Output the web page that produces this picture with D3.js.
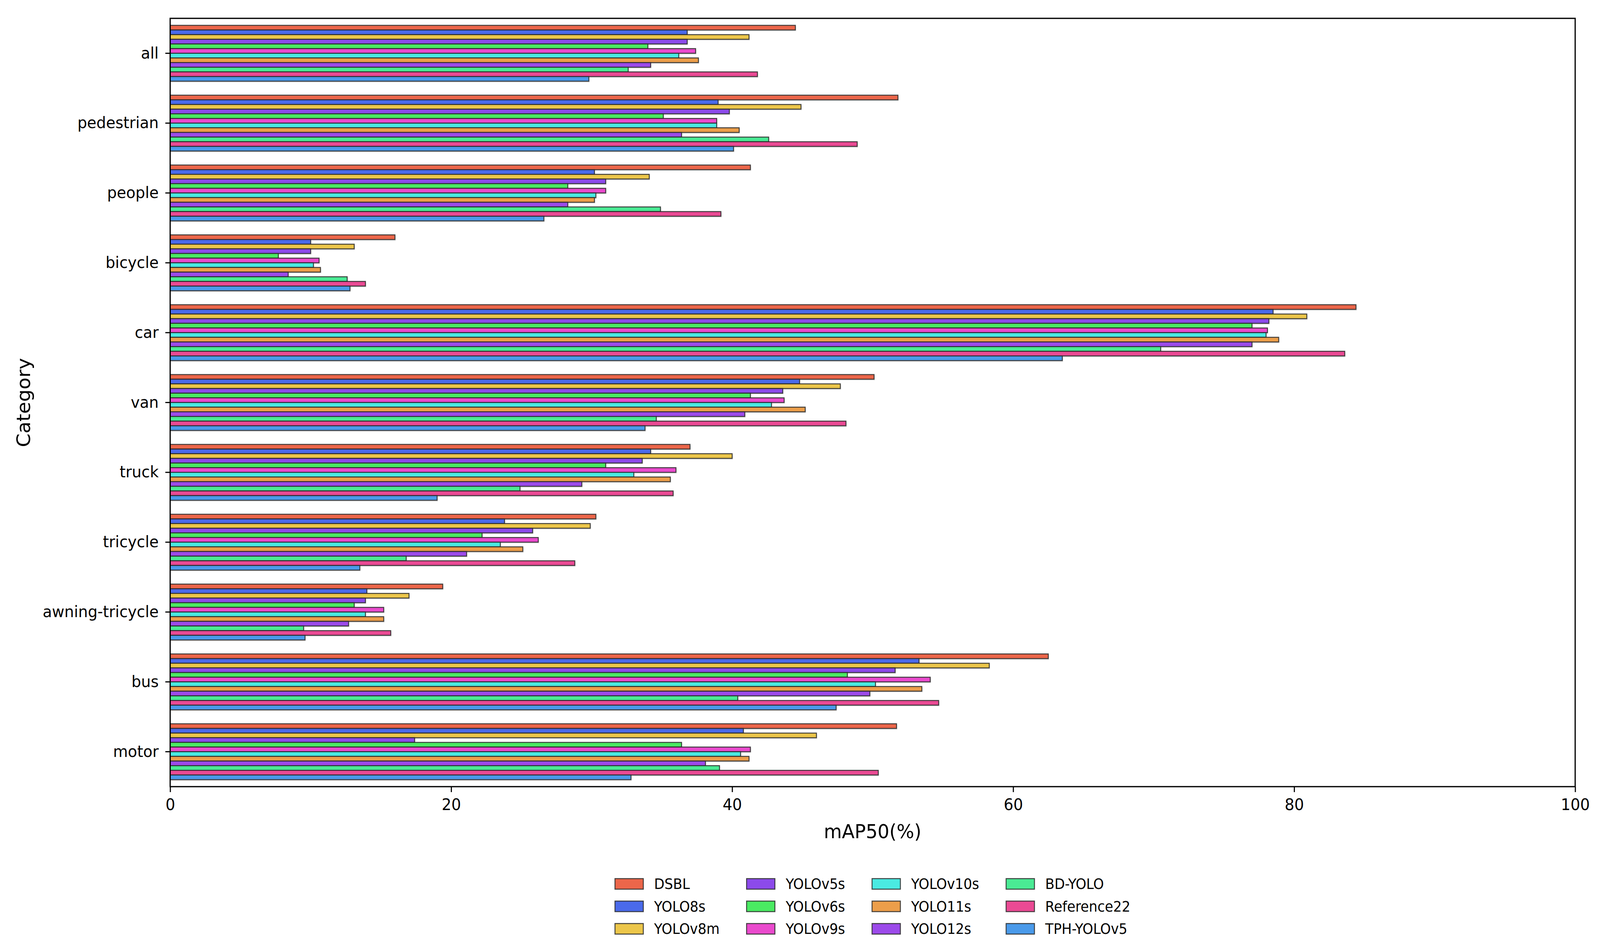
<!DOCTYPE html>
<html>
<head>
<meta charset="utf-8">
<script src="https://cdn.jsdelivr.net/npm/d3@7"></script>
<style>
    html, body { margin: 0; padding: 0; background: #fff; overflow: hidden; width: 100%; height: 100%; }
    #chart { width: 100vw; height: 100vh; }
    svg { display: block; }
    text { font-family: "DejaVu Sans", sans-serif; fill: #000; }
</style>
</head>
<body>
<div id="chart"></div>
<script>
// categories top to bottom
let categories = ["all", "pedestrian", "people", "bicycle", "car", "van", "truck",
    "tricycle", "awning-tricycle", "bus", "motor"];

let models = ["DSBL", "YOLO8s", "YOLOv8m", "YOLOv5s", "YOLOv6s", "YOLOv9s",
    "YOLOv10s", "YOLO11s", "YOLO12s", "BD-YOLO", "Reference22", "TPH-YOLOv5"];

let modelColors = ["#ec664a", "#4a6aea", "#ecc64a", "#8c4aea", "#4aea62", "#ea4acd",
    "#4aeae2", "#ec9e4a", "#9c4aea", "#4aea94", "#ea4a94", "#4a9aea"];

// mAP50 values per model, same order as categories
let dsbl        = [44.5, 51.8, 41.3, 16.0, 84.4, 50.1, 37.0, 30.3, 19.4, 62.5, 51.7];
let yolo8s      = [36.8, 39.0, 30.2, 10.0, 78.5, 44.8, 34.2, 23.8, 14.0, 53.3, 40.8];
let yolov8m     = [41.2, 44.9, 34.1, 13.1, 80.9, 47.7, 40.0, 29.9, 17.0, 58.3, 46.0];
let yolov5s     = [36.8, 39.8, 31.0, 10.0, 78.2, 43.6, 33.6, 25.8, 13.9, 51.6, 17.4];
let yolov6s     = [34.0, 35.1, 28.3, 7.7, 77.0, 41.3, 31.0, 22.2, 13.1, 48.2, 36.4];
let yolov9s     = [37.4, 38.9, 31.0, 10.6, 78.1, 43.7, 36.0, 26.2, 15.2, 54.1, 41.3];
let yolov10s    = [36.2, 38.9, 30.3, 10.2, 78.0, 42.8, 33.0, 23.5, 13.9, 50.2, 40.6];
let yolo11s     = [37.6, 40.5, 30.2, 10.7, 78.9, 45.2, 35.6, 25.1, 15.2, 53.5, 41.2];
let yolo12s     = [34.2, 36.4, 28.3, 8.4, 77.0, 40.9, 29.3, 21.1, 12.7, 49.8, 38.1];
let bdyolo      = [32.6, 42.6, 34.9, 12.6, 70.5, 34.6, 24.9, 16.8, 9.5, 40.4, 39.1];
let reference22 = [41.8, 48.9, 39.2, 13.9, 83.6, 48.1, 35.8, 28.8, 15.7, 54.7, 50.4];
let tphyolov5   = [29.8, 40.1, 26.6, 12.8, 63.5, 33.8, 19.0, 13.5, 9.6, 47.4, 32.8];

let seriesValues = [dsbl, yolo8s, yolov8m, yolov5s, yolov6s, yolov9s,
    yolov10s, yolo11s, yolo12s, bdyolo, reference22, tphyolov5];

let xTicks = [0, 20, 40, 60, 80, 100];

// build flat table for drawing
let barData = [];
categories.forEach((c, i) => {
    models.forEach((m, j) => {
        barData.push({category: c, model: m, value: seriesValues[j][i], color: modelColors[j]});
    });
});

let W = 4316, H = 2422;
let margin = {top: 47, right: 67, bottom: 408, left: 459};
let width = W - margin.left - margin.right;
let height = H - margin.top - margin.bottom;

// fixed drawing coordinates, stretched to fill the whole viewport
let svg = d3.select("#chart").append("svg")
    .attr("viewBox", "0 0 " + W + " " + H)
    .attr("preserveAspectRatio", "none")
    .attr("width", "100%")
    .attr("height", "100%");

let g = svg.append("g")
    .attr("transform", "translate(" + margin.left + "," + margin.top + ")");

// scales
let x = d3.scaleLinear().domain([0, 100]).range([0, width]);

let y = d3.scaleBand()
    .domain(categories)
    .range([0, height])
    .paddingInner(0.2)
    .paddingOuter(0.1);

let yInner = d3.scaleBand()
    .domain(models)
    .range([0, y.bandwidth()]);

// soft shadow under bars
g.append("g").selectAll("rect")
    .data(barData)
    .enter().append("rect")
    .attr("x", x(0) + 2)
    .attr("y", d => y(d.category) + yInner(d.model) + 3)
    .attr("width", d => x(d.value) - x(0))
    .attr("height", yInner.bandwidth())
    .style("fill", "#000")
    .style("opacity", 0.12);

// bars
g.append("g").selectAll("rect")
    .data(barData)
    .enter().append("rect")
    .attr("class", "bar")
    .attr("x", x(0))
    .attr("y", d => y(d.category) + yInner(d.model))
    .attr("width", d => x(d.value) - x(0))
    .attr("height", yInner.bandwidth())
    .style("fill", d => d.color)
    .style("stroke", "#2a2a2a")
    .style("stroke-opacity", 0.85)
    .style("stroke-width", 2.6);

// axes
let xAxis = d3.axisBottom(x)
    .tickValues(xTicks)
    .tickSize(14)
    .tickSizeOuter(0)
    .tickPadding(17);

let yAxis = d3.axisLeft(y)
    .tickSize(13)
    .tickSizeOuter(0)
    .tickPadding(18);

let gx = g.append("g")
    .attr("class", "x-axis axis")
    .attr("transform", "translate(0," + height + ")")
    .call(xAxis);

let gy = g.append("g")
    .attr("class", "y-axis axis")
    .call(yAxis);

[gx, gy].forEach(a => {
    a.select(".domain").remove();
    a.selectAll("line").style("stroke", "#000").style("stroke-width", 3);
    a.selectAll("text").style("font-size", "41px").style("font-family", "DejaVu Sans");
});

// frame
g.append("rect")
    .attr("width", width)
    .attr("height", height)
    .style("fill", "none")
    .style("stroke", "#000")
    .style("stroke-width", 3.2);

// axis labels
g.append("text")
    .attr("x", width / 2)
    .attr("y", 2128 - margin.top)
    .attr("dy", "0.36em")
    .style("text-anchor", "middle")
    .style("font-size", "50px")
    .text("mAP50(%)");

g.append("text")
    .attr("transform", "rotate(-90)")
    .attr("x", -height / 2)
    .attr("y", 63 - margin.left)
    .attr("dy", "0.36em")
    .style("text-anchor", "middle")
    .style("font-size", "50px")
    .text("Category");

// legend: 4 columns x 3 rows, filled column by column
let nRows = 3;
let fontSize = 36.4;
let handleW = 2.1 * fontSize, handleH = 27;
let textPad = 0.8 * fontSize, colSpacing = 2.0 * fontSize;
let rowGap = 57.5;
let legendTop = 2263;

let legend = svg.append("g").attr("class", "legend");

let items = legend.selectAll("g")
    .data(models)
    .enter().append("g");

items.append("text")
    .attr("class", "legend-label")
    .attr("dy", "0.36em")
    .style("font-size", fontSize + "px")
    .text(d => d);

// measure text to lay out columns like matplotlib
let textWidths = [];
items.select("text").each(function () { textWidths.push(this.getComputedTextLength()); });

let nCols = Math.ceil(models.length / nRows);
let colWidths = d3.range(nCols).map(c =>
    handleW + textPad + d3.max(textWidths.slice(c * nRows, c * nRows + nRows)));
let totalW = d3.sum(colWidths) + colSpacing * (nCols - 1);
let colStart = [];
let acc = margin.left + width / 2 - totalW / 2;
colWidths.forEach(w => { colStart.push(acc); acc += w + colSpacing; });

items.attr("transform", (d, i) => {
    let c = Math.floor(i / nRows), r = i % nRows;
    return "translate(" + colStart[c] + "," + (legendTop + r * rowGap) + ")";
});

items.insert("rect", "text")
    .attr("x", 0)
    .attr("y", -handleH / 2)
    .attr("width", handleW)
    .attr("height", handleH)
    .style("fill", (d, i) => modelColors[i])
    .style("stroke", "#2a2a2a")
    .style("stroke-opacity", 0.85)
    .style("stroke-width", 2.6);

items.select("text").attr("x", handleW + textPad);
</script>
</body>
</html>
